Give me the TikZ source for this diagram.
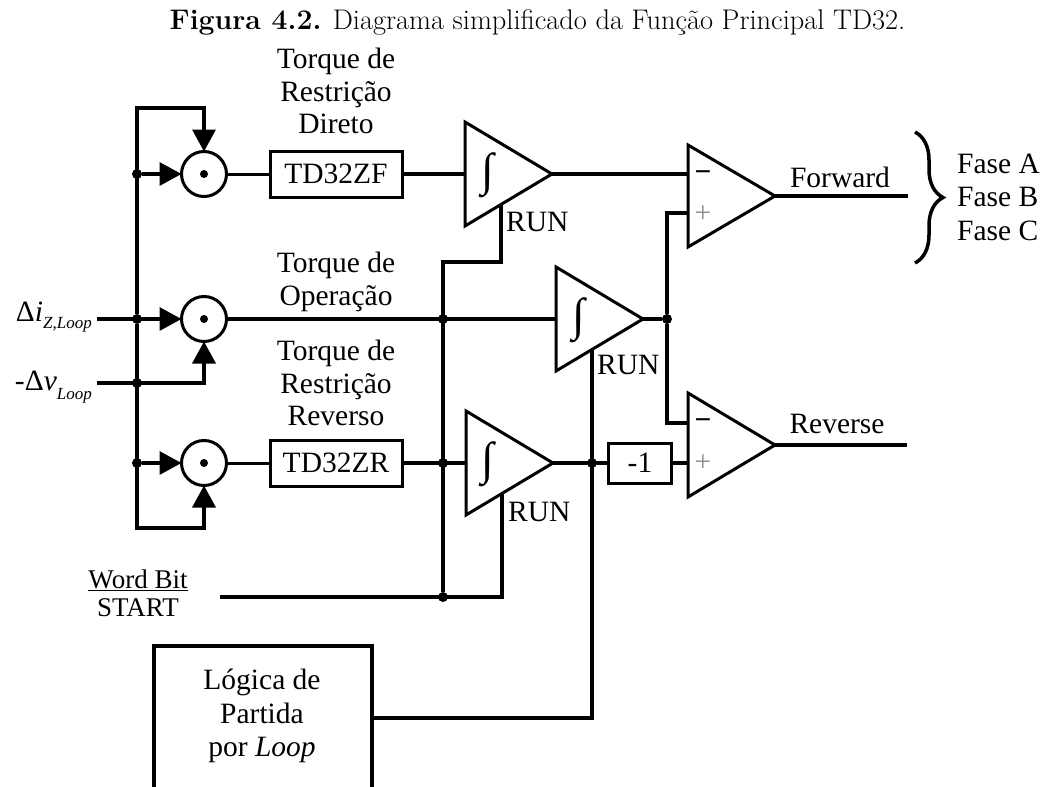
\documentclass[tikz,border=0pt]{standalone}
\usepackage{fontspec}
\newfontfamily\tnr{Liberation Serif}
\usetikzlibrary{shapes.geometric,arrows.meta,calc,decorations.pathreplacing}
\begin{document}
\begin{tikzpicture}[x=1pt,y=-1pt,
  wire/.style={line width=3.5pt},
  thinwire/.style={line width=3pt},
  arr/.style={-{Triangle[length=22pt,width=23pt]}},
  mult/.style={circle,draw,line width=3pt,minimum size=45pt,inner sep=0pt,outer sep=0pt,
    path picture={\fill (path picture bounding box.center) circle (4pt);}},
  blk/.style={draw,line width=3pt,inner sep=0pt,outer sep=0pt,font=\tnr\fontsize{29.5}{32}\selectfont},
  amp/.style={isosceles triangle,isosceles triangle stretches,draw,line width=3pt,inner sep=0pt,outer sep=0pt,
    minimum height=87pt,minimum width=104pt,anchor=apex},
  lbl/.style={font=\tnr\fontsize{29.5}{32.5}\selectfont,align=center,inner sep=0pt},
  sgn/.style={font=\tnr\fontsize{29.5}{30}\selectfont,inner sep=0pt},
  intg/.style={font=\tnr\fontsize{46}{46}\selectfont,inner sep=0pt},
  dot/.style={circle,fill,inner sep=0pt,minimum size=10pt},
  runlbl/.style={font=\tnr\fontsize{29.5}{30}\selectfont,inner sep=0pt,anchor=west}
]
\useasboundingbox (0,0) rectangle (1047,787);

% title
\node[anchor=base,inner sep=0pt,font=\fontsize{28.4}{32}\selectfont] (title) at (537.5,29)
  {\textbf{Figura 4.2.} Diagrama simplificado da Função Principal TD32.};

% multipliers
\node[mult] (m1) at (204,174) {};
\node[mult] (m2) at (204,319) {};
\node[mult] (m3) at (204,463) {};

% blocks
\node[blk,minimum width=132pt,minimum height=46pt] (zf) at (336,174) {TD32ZF};
\node[blk,minimum width=132pt,minimum height=46pt] (zr) at (336,463) {TD32ZR};
\node[blk,minimum width=63pt,minimum height=40pt] (neg) at (640,463) {-1};

% integrators
\node[amp] (i1) at (552,174) {};
\node[amp] (i2) at (643,319) {};
\node[amp] (i3) at (553,463) {};
\node[intg] (s1) at (488,175) {∫};
\node[intg] (s2) at (579,320) {∫};
\node[intg] (s3) at (488,464) {∫};

% comparators
\node[amp,minimum width=102pt] (c1) at (775,196) {};
\node[amp,minimum width=104pt] (c2) at (775,445) {};
\node[sgn] (c1m) at (703,176) {\textbf{−}};
\node[sgn,text=black!45] (c1p) at (703,214) {+};
\node[sgn] (c2m) at (703,424) {\textbf{−}};
\node[sgn,text=black!45] (c2p) at (703,463) {+};

% junction dots
\node[dot] (j1) at (137,174) {};
\node[dot] (j2) at (137,319) {};
\node[dot] (j3) at (137,383) {};
\node[dot] (j4) at (137,463) {};
\node[dot] (ja) at (443,319) {};
\node[dot] (jb) at (443,463) {};
\node[dot] (jo) at (667,319) {};
\node[dot] (jn) at (592,463) {};
\node[dot] (jw) at (443,597) {};

% coordinates
\coordinate (bt) at (137,108);
\coordinate (bb) at (137,528);
\coordinate (inI) at (97,319);
\coordinate (inV) at (97,383);
\coordinate (wb) at (220,597);
\coordinate (k1) at (443,262);
\coordinate (ly) at (0,718);
\coordinate (fe) at (908,196);
\coordinate (re) at (907,445);
\coordinate (r1) at ($(i1.apex)+(-51,30.5)$);
\coordinate (r2) at ($(i2.apex)+(-51,30.5)$);
\coordinate (r3) at ($(i3.apex)+(-51,30.5)$);

% Logica box
\node[draw,line width=3.5pt,minimum width=218pt,minimum height=200pt,anchor=north west,inner sep=0pt] (lgbox) at (152,644) {};
\node[lbl,font=\tnr\fontsize{29.5}{33.5}\selectfont] (lgtxt) at (262,716) {Lógica de\\Partida\\por \textit{Loop}};

% inputs
\draw[wire,arr] (j2) -- (bt) -| (m1.north);
\draw[wire,arr] (j2) -- (bb) -| (m3.south);
\draw[wire,arr] (j1) -- (m1.west);
\draw[wire,arr] (j4) -- (m3.west);
\draw[wire,arr] (inI) -- (m2.west);
\draw[wire,arr] (inV) -| (m2.south);

% signal paths
\draw[thinwire] (m1.east) -- (zf.west);
\draw[wire] (zf.east) -- (i1.west);
\draw[wire] (m2.east) -- (i2.west);
\draw[thinwire] (m3.east) -- (zr.west);
\draw[wire] (zr.east) -- (i3.west);
\draw[wire] (i1.apex) -- (i1.apex -| c1.west);
\draw[wire] (i2.apex) -- (jo);
\draw[wire] (jo) |- ($(c1.west)+(0,17)$);
\draw[wire] (jo) |- ($(c2.west)+(0,-22)$);
\draw[wire] (i3.apex) -- (neg.west);
\draw[wire] (neg.east) -- (neg.east -| c2.west);
\draw[wire] (c1.apex) -- (fe);
\draw[wire] (c2.apex) -- (re);

% RUN lines
\draw[wire] (wb) -| (r3);
\draw[wire] (jw) -- (k1) -| (r1);
\draw[wire] (lgbox.east |- ly) -| (r2);

% brace
\draw[line width=3.5pt,decorate,decoration={brace,amplitude=28pt}] (915,132) -- (915,263);

% labels
\node[lbl] (tRD) at (336,91) {Torque de\\Restrição\\Direto};
\node[lbl] (tOp) at (336,282) {Torque de\\Operação};
\node[lbl] (tRR) at (336,383) {Torque de\\Restrição\\Reverso};
\node[lbl] (fw) at (840,177) {Forward};
\node[lbl] (rv) at (837,424) {Reverse};
\node[lbl,font=\tnr\fontsize{29.5}{33.5}\selectfont,anchor=west,align=left] (fases) at (957,197) {Fase A\\Fase B\\Fase C};
\node[runlbl] (run1) at ($(i1.apex)+(-46,48)$) {RUN};
\node[runlbl] (run2) at ($(i2.apex)+(-46,46)$) {RUN};
\node[runlbl] (run3) at ($(i3.apex)+(-45,49)$) {RUN};
\node[lbl,font=\tnr\fontsize{27}{28}\selectfont] (wbit) at (138,593) {\underline{Word Bit}\\START};
\node[anchor=base east,inner sep=0pt,font=\tnr\fontsize{29.5}{30}\selectfont] (lI) at (92,321)
  {Δ\textit{i}\raisebox{-7pt}{\fontsize{17}{17}\selectfont\textit{Z,Loop}}};
\node[anchor=base east,inner sep=0pt,font=\tnr\fontsize{29.5}{30}\selectfont] (lV) at (92,390)
  {-Δ\textit{v}\raisebox{-9pt}{\fontsize{17}{17}\selectfont\textit{Loop}}};
\end{tikzpicture}
\end{document}
